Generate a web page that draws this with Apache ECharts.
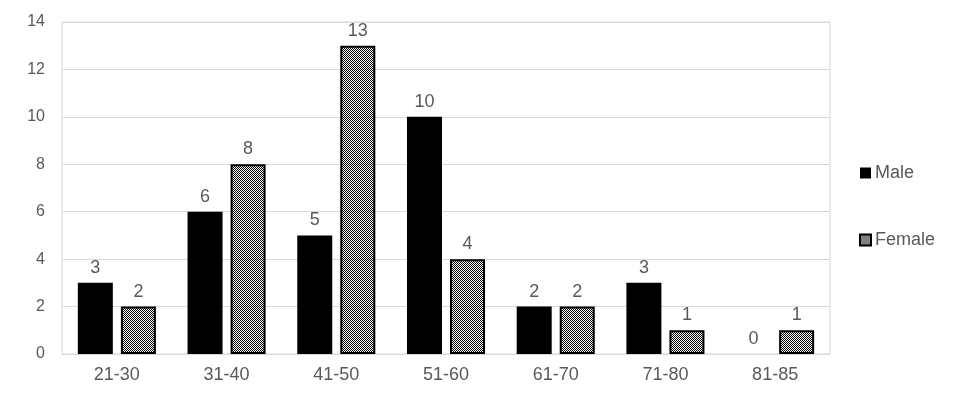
<!DOCTYPE html>
<html>
<head>
<meta charset="utf-8">
<script src="https://cdn.jsdelivr.net/npm/echarts@6/dist/echarts.min.js"></script>
<style>
  html, body { margin: 0; padding: 0; background: #fff; }
  #main { width: 968px; height: 398px; }
</style>
</head>
<body>
<div id="main"></div>
<script>
// 数据
var categories = ['21-30', '31-40', '41-50', '51-60', '61-70', '71-80', '81-85'];
var maleValues = [3, 6, 5, 10, 2, 3, 0];
var femaleValues = [2, 8, 13, 4, 2, 1, 1];

// 棋盘格填充
var makeChecker = function () {
    var c = document.createElement('canvas');
    c.width = 2;
    c.height = 2;
    var ctx = c.getContext('2d');
    ctx.fillStyle = '#000';
    ctx.fillRect(0, 0, 1, 1);
    ctx.fillRect(1, 1, 1, 1);
    return c;
};
var checker = { image: makeChecker(), repeat: 'repeat' };

var textColor = '#595959';
var chartDom = document.getElementById('main');
var myChart = echarts.init(chartDom);
var option = {
    animation: false,
    textStyle: { fontFamily: 'Liberation Sans, Arial, sans-serif' },
    grid: {
        left: 62,
        right: 138,
        top: 22,
        bottom: 44,
        show: true,
        borderColor: '#d9d9d9',
        borderWidth: 1
    },
    legend: {
        orient: 'vertical',
        left: 854,
        top: 159,
        itemGap: 49,
        itemWidth: 11,
        itemHeight: 11,
        icon: 'rect',
        textStyle: { color: textColor, fontSize: 18, padding: [0, 0, 0, -1] },
        data: ['Male', 'Female']
    },
    xAxis: {
        type: 'category',
        data: categories,
        axisLine: { lineStyle: { color: '#d9d9d9' } },
        axisTick: { show: false },
        axisLabel: { color: textColor, fontSize: 18, margin: 12 }
    },
    yAxis: {
        type: 'value',
        min: 0,
        max: 14,
        interval: 2,
        axisLine: { show: false },
        axisTick: { show: false },
        splitLine: { lineStyle: { color: '#d9d9d9' } },
        axisLabel: { color: textColor, fontSize: 16, margin: 17 }
    },
    series: [
        {
            name: 'Male',
            type: 'bar',
            data: maleValues,
            barWidth: 35,
            barGap: '23%',
            itemStyle: { color: '#000' },
            label: { show: true, position: 'top', color: textColor, fontSize: 18, distance: 6 }
        },
        {
            name: 'Female',
            type: 'bar',
            data: femaleValues,
            barWidth: 35,
            itemStyle: { color: checker, borderColor: '#000', borderWidth: 2 },
            label: { show: true, position: 'top', color: textColor, fontSize: 18, distance: 6 }
        }
    ]
};
option && myChart.setOption(option);
</script>
</body>
</html>
